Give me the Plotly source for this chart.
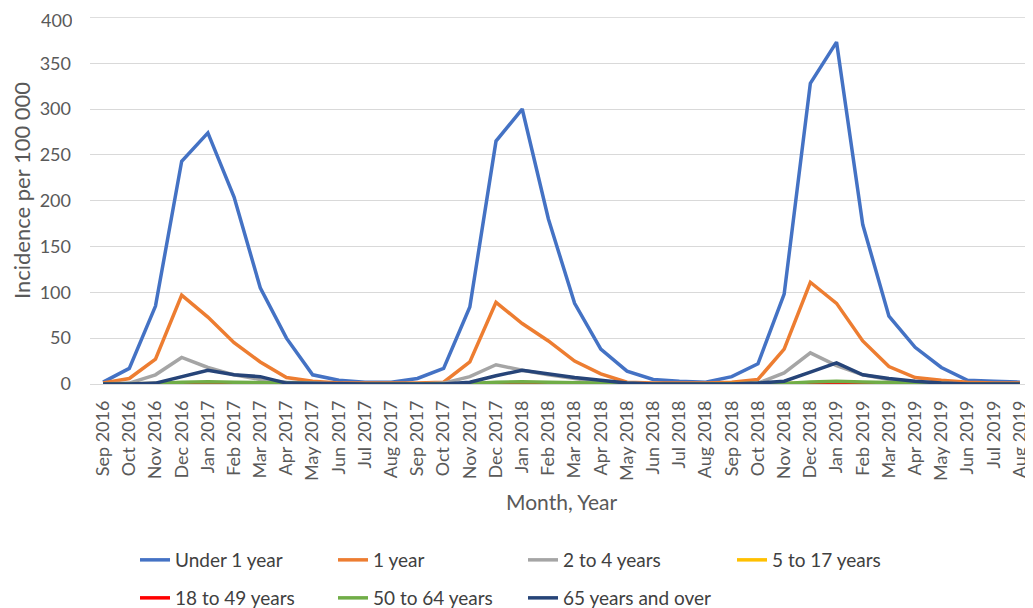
import plotly.graph_objects as go

months = ["Sep 2016","Oct 2016","Nov 2016","Dec 2016","Jan 2017","Feb 2017","Mar 2017","Apr 2017","May 2017","Jun 2017","Jul 2017","Aug 2017",
          "Sep 2017","Oct 2017","Nov 2017","Dec 2017","Jan 2018","Feb 2018","Mar 2018","Apr 2018","May 2018","Jun 2018","Jul 2018","Aug 2018",
          "Sep 2018","Oct 2018","Nov 2018","Dec 2018","Jan 2019","Feb 2019","Mar 2019","Apr 2019","May 2019","Jun 2019","Jul 2019","Aug 2019"]

under1 = [2,17,85,243,274,204,105,50,10,4,2,2,
          6,17,84,265,300,180,88,38,14,5,3,2,
          8,22,98,328,373,174,74,40,18,4,3,2]
one_year = [1,6,27,97,73,45,24,7,3,1,1,1,
            1,2,24,89,66,47,25,11,2,1,1,1,
            2,5,38,111,88,47,19,7,4,2,1,1]
two_to4 = [0,1,10,29,18,10,5,2,1,0,0,0,
           0,1,8,21,15,10,6,2,1,0,0,0,
           0,1,12,34,20,10,5,2,1,0,0,0]
five_to17 = [0,0,0.5,1,1,0.8,0.5,0.3,0.1,0,0,0,
             0,0,0.4,1,1,0.8,0.5,0.3,0.1,0,0,0,
             0,0,0.5,1,1.2,0.8,0.5,0.3,0.1,0,0,0]
eighteen_49 = [0,0,0.2,0.5,0.6,0.4,0.3,0.1,0,0,0,0,
               0,0,0.2,0.5,0.6,0.4,0.3,0.1,0,0,0,0,
               0,0,0.2,0.6,0.7,0.4,0.3,0.1,0,0,0,0]
fifty_64 = [0,0,0.5,2,2.5,2,1.5,0.5,0.2,0,0,0,
            0,0,0.5,2,2.5,2,1.5,0.5,0.2,0,0,0,
            0,0,0.6,2.2,3,2.2,1.5,0.5,0.2,0,0,0]
over65 = [0,0,1,8,15,10,8,1,0.5,0,0,0,
          0,0,2,9,15,11,7,4,1,0,0,0,
          0,1,3,13,23,10,6,3,1,0,0,0]

y_ticks = [0, 50, 100, 150, 200, 250, 300, 350]
y_top = 400

series = [
    ("Under 1 year", under1, "#4472C4"),
    ("1 year", one_year, "#ED7D31"),
    ("2 to 4 years", two_to4, "#A5A5A5"),
    ("5 to 17 years", five_to17, "#FFC000"),
    ("18 to 49 years", eighteen_49, "#FF0000"),
    ("50 to 64 years", fifty_64, "#70AD47"),
    ("65 years and over", over65, "#264478"),
]

W, H = 1025, 600
FONT = "Lato, Open Sans, sans-serif"
GRID = "#D9D9D9"
TXT = "#595959"
legfont = dict(family=FONT, size=19, color="#404040")
# legend slots: (left x px, centre y px) in figure pixels
slots = [(127, 552), (325, 552), (515, 552), (724, 552),
         (127, 590), (325, 590), (515, 590)]
legend_keys = ["legend"] + [f"legend{i}" for i in range(2, 8)]

fig = go.Figure()
for (name, vals, color), key in zip(series, legend_keys):
    fig.add_trace(go.Scatter(x=months, y=vals, mode="lines", name=name,
                             line=dict(color=color, width=3.5), legend=key))

legends = {}
for key, (lx, ly) in zip(legend_keys, slots):
    legends[key] = dict(xref="container", yref="container", x=lx / W, y=1 - ly / H,
                        xanchor="left", yanchor="middle", orientation="v", font=legfont,
                        bgcolor="rgba(0,0,0,0)", borderwidth=0, itemwidth=30)

fig.update_layout(
    width=W, height=H,
    margin=dict(l=82, r=0, t=9, b=224, autoexpand=False),
    plot_bgcolor="white", paper_bgcolor="white",
    showlegend=True,
    **legends,
    xaxis=dict(type="category", tickangle=-90, range=[-0.5, 35.5], automargin=False,
               tickfont=dict(family=FONT, size=18, color=TXT),
               showgrid=False, showline=False, ticks="", ticklabelstandoff=12),
    yaxis=dict(range=[0, y_top + 0.4], tickvals=y_ticks,
               automargin=False,
               showgrid=True, gridcolor=GRID, gridwidth=1,
               zeroline=True, zerolinecolor=GRID, zerolinewidth=1,
               tickfont=dict(family=FONT, size=18, color=TXT),
               ticks="", ticklabelstandoff=18),
    shapes=[dict(type="line", xref="paper", x0=0, x1=1, yref="y", y0=y_top, y1=y_top,
                 line=dict(color=GRID, width=1), layer="below")],
    annotations=[
        dict(text=str(y_top), xref="paper", yref="y", x=0, y=y_top, xanchor="right",
             yanchor="middle", xshift=-17, yshift=-3, showarrow=False, height=18, borderpad=0,
             font=dict(family=FONT, size=18, color=TXT)),
        dict(text="Incidence per 100 000", xref="paper", yref="paper", x=-0.072, y=0.526,
             textangle=-90, showarrow=False, xanchor="center", yanchor="middle",
             font=dict(family=FONT, size=22, color=TXT)),
        dict(text="Month, Year", xref="paper", yref="paper", x=0.5, y=-0.3215,
             showarrow=False, xanchor="center", yanchor="middle",
             font=dict(family=FONT, size=21, color=TXT)),
    ],
)

fig.write_html("out.html")
